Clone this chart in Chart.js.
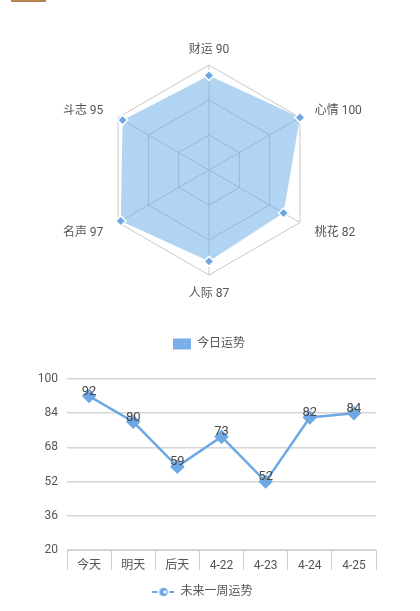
<!DOCTYPE html>
<html>
<head>
<meta charset="utf-8">
<script src="https://cdn.jsdelivr.net/npm/chart.js@4/dist/chart.umd.min.js"></script>
<style>
  body { margin: 0; background: #fff; width: 420px; height: 611px; overflow: hidden; position: relative; }
  #bar { position: absolute; left: 11px; top: 0; width: 35px; height: 2px; background: #b5844f; }
  #wrapRadar { position: absolute; left: 0; top: 0; width: 420px; height: 360px; }
  #wrapLine { position: absolute; left: 0; top: 360px; width: 420px; height: 251px; }
</style>
</head>
<body>
<div id="bar"></div>
<div id="wrapRadar"><canvas id="radar"></canvas></div>
<div id="wrapLine"><canvas id="line"></canvas></div>
<script>
// radar: today's luck
const radarCats = ['财运', '心情', '桃花', '人际', '名声', '斗志']
const radarVals = [90, 100, 82, 87, 97, 95]
const radarName = '今日运势'

// line: next week
const weekCats = ['今天', '明天', '后天', '4-22', '4-23', '4-24', '4-25']
const weekVals = [92, 80, 59, 73, 52, 82, 84]
const weekName = '未来一周运势'
const yTicks = [20, 36, 52, 68, 84, 100]

const FONT = "Roboto, 'Noto Sans CJK SC', sans-serif"
const blue = '#6ea8e4'
Chart.defaults.font.family = FONT
Chart.defaults.color = '#555'
Chart.defaults.animation = false

// little dotted pattern for the legend box
const pc = document.createElement('canvas')
pc.width = 3; pc.height = 3
const px = pc.getContext('2d')
px.fillStyle = '#78ade8'
px.fillRect(0, 0, 3, 3)
px.fillStyle = '#8dbbee'
px.fillRect(1, 1, 1, 1)
const pattern = px.createPattern(pc, 'repeat')

// point labels sit centred on a ring a bit outside the web
const radarLabels = {
    id: 'radarLabels',
    afterDraw(chart) {
        const r = chart.scales.r
        const ctx = chart.ctx
        ctx.save()
        ctx.font = '12px ' + FONT
        ctx.fillStyle = '#555'
        ctx.textBaseline = 'middle'
        chart.data.labels.forEach((lab, i) => {
            const p = r.getPointPosition(i, r.drawingArea + 17)
            const dx = p.x - r.xCenter
            ctx.textAlign = Math.abs(dx) < 1 ? 'center' : (dx > 0 ? 'left' : 'right')
            ctx.fillText(lab, p.x, p.y + 2)
        })
        ctx.restore()
    }
}

new Chart(document.getElementById('radar'), {
    type: 'radar',
    data: {
        labels: radarCats.map((c, i) => c + ' ' + radarVals[i]),
        datasets: [{
            label: radarName,
            data: radarVals,
            backgroundColor: 'rgba(101,169,231,0.5)',
            borderWidth: 0,
            pointStyle: 'rectRot',
            pointRadius: 5,
            pointBackgroundColor: blue,
            pointBorderColor: '#fff',
            pointBorderWidth: 1.5
        }]
    },
    options: {
        responsive: true,
        maintainAspectRatio: false,
        layout: { padding: { top: 65, right: 2 } },
        plugins: {
            legend: {
                position: 'bottom',
                labels: {
                    // big padding keeps the legend text near the canvas bottom
                    padding: 63,
                    boxWidth: 18, boxHeight: 11, font: { size: 12 }, color: '#555',
                    generateLabels: (chart) => [{
                        text: radarName, fillStyle: pattern, strokeStyle: pattern,
                        lineWidth: 0, datasetIndex: 0, fontColor: '#555'
                    }]
                }
            },
            tooltip: { enabled: false }
        },
        scales: {
            r: {
                min: 0, max: 100,
                ticks: { display: false, stepSize: 100 / 3 },
                grid: { color: '#c8c8c8', lineWidth: 1 },
                angleLines: { color: '#c8c8c8', lineWidth: 1 },
                pointLabels: { display: false }
            }
        }
    },
    plugins: [radarLabels]
})

// legend icon: dashed line with a ring in the middle
const lc = document.createElement('canvas')
lc.width = 22; lc.height = 10
const lx = lc.getContext('2d')
lx.strokeStyle = blue
lx.lineWidth = 2
lx.beginPath(); lx.moveTo(0, 5); lx.lineTo(5, 5); lx.moveTo(17, 5); lx.lineTo(22, 5); lx.stroke()
lx.fillStyle = blue
lx.beginPath(); lx.arc(11, 5, 4.3, 0, Math.PI * 2); lx.fill()
lx.fillStyle = '#fff'
lx.beginPath(); lx.arc(12.5, 5, 1.6, 0, Math.PI * 2); lx.fill()

const valueLabels = {
    id: 'valueLabels',
    afterDatasetsDraw(chart) {
        const ctx = chart.ctx
        const meta = chart.getDatasetMeta(0)
        ctx.save()
        ctx.font = '13px ' + FONT
        ctx.fillStyle = '#4a4a4a'
        ctx.textAlign = 'center'
        ctx.textBaseline = 'bottom'
        meta.data.forEach((pt, i) => {
            ctx.fillText(String(weekVals[i]), pt.x, pt.y + 2)
        })
        ctx.restore()
    }
}

// the original cuts the category strip off at the bottom
const cutStrip = {
    id: 'cutStrip',
    afterDraw(chart) {
        const x = chart.scales.x
        const ctx = chart.ctx
        ctx.save()
        ctx.fillStyle = '#fff'
        ctx.fillRect(x.left - 2, x.top + 21, x.right - x.left + 4, x.bottom - x.top - 21)
        ctx.restore()
    }
}

new Chart(document.getElementById('line'), {
    type: 'line',
    data: {
        labels: weekCats,
        datasets: [{
            label: weekName,
            data: weekVals,
            borderColor: blue,
            borderWidth: 2.5,
            pointStyle: 'rectRot',
            pointRadius: 5.5,
            pointBackgroundColor: blue,
            pointBorderColor: blue,
            tension: 0
        }]
    },
    options: {
        responsive: true,
        maintainAspectRatio: false,
        layout: { padding: { left: 29, right: 44, top: 19, bottom: 3 } },
        plugins: {
            legend: {
                position: 'bottom',
                labels: {
                    usePointStyle: true, pointStyleWidth: 22, font: { size: 12 }, color: '#555',
                    generateLabels: (chart) => [{
                        text: weekName, pointStyle: lc, fillStyle: blue, strokeStyle: blue,
                        lineWidth: 0, datasetIndex: 0, fontColor: '#555'
                    }]
                }
            },
            tooltip: { enabled: false }
        },
        scales: {
            x: {
                offset: true,
                afterFit: (axis) => { axis.height = 26 },
                grid: { offset: true, drawOnChartArea: false, color: '#cfcfcf', tickLength: 20, lineWidth: 1 },
                border: { color: '#cfcfcf' },
                ticks: { padding: -11, font: { size: 12 }, color: '#555' }
            },
            y: {
                min: 20, max: 100,
                afterFit: (axis) => { axis.width = 38 },
                afterBuildTicks: (axis) => { axis.ticks = yTicks.map(v => ({ value: v })) },
                grid: { color: '#d6d6d6', lineWidth: 1.5, drawTicks: false },
                border: { display: false },
                ticks: { padding: 9, font: { size: 12 }, color: '#555' }
            }
        }
    },
    plugins: [valueLabels, cutStrip]
})
</script>
</body>
</html>
